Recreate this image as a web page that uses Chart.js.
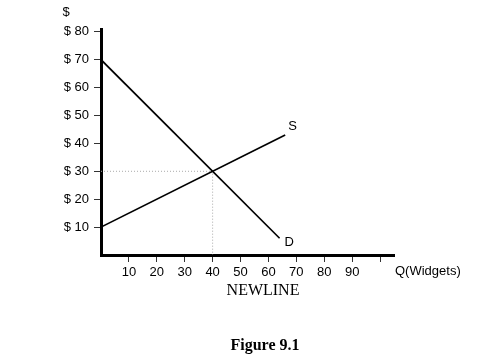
<!DOCTYPE html>
<html>
<head>
<meta charset="utf-8">
<script src="https://cdn.jsdelivr.net/npm/chart.js@4"></script>
<style>
  body { margin: 0; background: #fff; }
  #wrap { position: relative; width: 488px; height: 362px; }
  #fig { position: absolute; left: 0; width: 488px; top: 336px; text-align: center;
         font: bold 16px "Liberation Serif", serif; color: #000; padding-left: 42px; box-sizing: border-box; }
</style>
</head>
<body>
<div id="wrap">
  <canvas id="myChart" width="488" height="362"></canvas>
  <div id="fig">Figure 9.1</div>
</div>
<script>
'use strict';

// data
var quantities = [0, 64];            // demand line Q ends
var demandPrices = [70, 6];
var supplyQuantities = [0, 66];
var supplyPrices = [10, 43];
var equilibrium = [40, 30];          // Q, $
var xTicks = [10, 20, 30, 40, 50, 60, 70, 80, 90, 100];
var yTicks = [10, 20, 30, 40, 50, 60, 70, 80];

function toPoints(xs, ys) {
  var pts = [];
  for (let i = 0; i < xs.length; i++) {
    pts.push({ x: xs[i], y: ys[i] });
  }
  return pts;
}

//labels drawn on the canvas
var textPlugin = {
  id: 'texts',
  afterDraw: function(chart) {
    var ctx = chart.ctx;
    var xs = chart.scales.x;
    var ys = chart.scales.y;
    ctx.save();
    ctx.fillStyle = '#000';
    ctx.font = '13px "Liberation Sans", Arial, sans-serif';
    ctx.textBaseline = 'middle';
    ctx.textAlign = 'left';
    // S and D line labels
    ctx.fillText('S', xs.getPixelForValue(supplyQuantities[1]) + 3, ys.getPixelForValue(supplyPrices[1]) - 9);
    ctx.fillText('D', xs.getPixelForValue(quantities[1]) + 5, ys.getPixelForValue(demandPrices[1]) + 4);
    // axis titles
    ctx.textAlign = 'center';
    ctx.fillText('$', 66, 12);
    ctx.textAlign = 'left';
    ctx.fillText('Q(Widgets)', 395, 271);
    ctx.font = '16px "Liberation Serif", serif';
    ctx.textAlign = 'center';
    ctx.fillText('NEWLINE', 263, 291);
    ctx.restore();
  }
};

var ctx = document.getElementById('myChart').getContext('2d');
//eslint-disable-next-line no-undef, no-unused-vars
var chart = new Chart(ctx, {
  type: 'scatter',
  data: {
    datasets: [{
      label: 'D',
      data: toPoints(quantities, demandPrices),
      showLine: true,
      borderColor: '#000',
      borderWidth: 1.7,
      pointRadius: 0
    }, {
      label: 'S',
      data: toPoints(supplyQuantities, supplyPrices),
      showLine: true,
      borderColor: '#000',
      borderWidth: 1.7,
      pointRadius: 0
    }, {
      label: 'price guide',
      data: [{ x: 0, y: equilibrium[1] }, { x: equilibrium[0], y: equilibrium[1] }, { x: equilibrium[0], y: 0 }],
      showLine: true,
      borderColor: '#aaa',
      borderWidth: 1,
      borderDash: [1, 2],
      pointRadius: 0
    }]
  },
  options: {
    responsive: false,
    animation: false,
    layout: { padding: { top: 29, right: 94, left: 0, bottom: 0 } },
    plugins: { legend: { display: false }, tooltip: { enabled: false } },
    scales: {
      x: {
        type: 'linear',
        min: 0,
        max: 105,
        afterBuildTicks: function(scale) {
          scale.ticks = xTicks.map(function(v) { return { value: v }; });
        },
        afterFit: function(scale) { scale.height = 107; },
        border: { color: '#000', width: 3 },
        grid: { drawOnChartArea: false, color: '#333', tickLength: 7, tickWidth: 1 },
        ticks: {
          color: '#000',
          padding: 3,
          maxRotation: 0,
          font: { family: '"Liberation Sans", Arial, sans-serif', size: 13 },
          callback: function(v) { return v === 100 ? '' : v; }
        }
      },
      y: {
        type: 'linear',
        min: 0,
        max: 81,
        afterBuildTicks: function(scale) {
          scale.ticks = yTicks.map(function(v) { return { value: v }; });
        },
        afterFit: function(scale) { scale.width = 101; },
        border: { color: '#000', width: 3 },
        grid: { drawOnChartArea: false, color: '#333', tickLength: 7, tickWidth: 1 },
        ticks: {
          color: '#000',
          padding: 5,
          font: { family: '"Liberation Sans", Arial, sans-serif', size: 13 },
          callback: function(v) { return '$ ' + v; }
        }
      }
    }
  },
  plugins: [textPlugin]
});
</script>
</body>
</html>
